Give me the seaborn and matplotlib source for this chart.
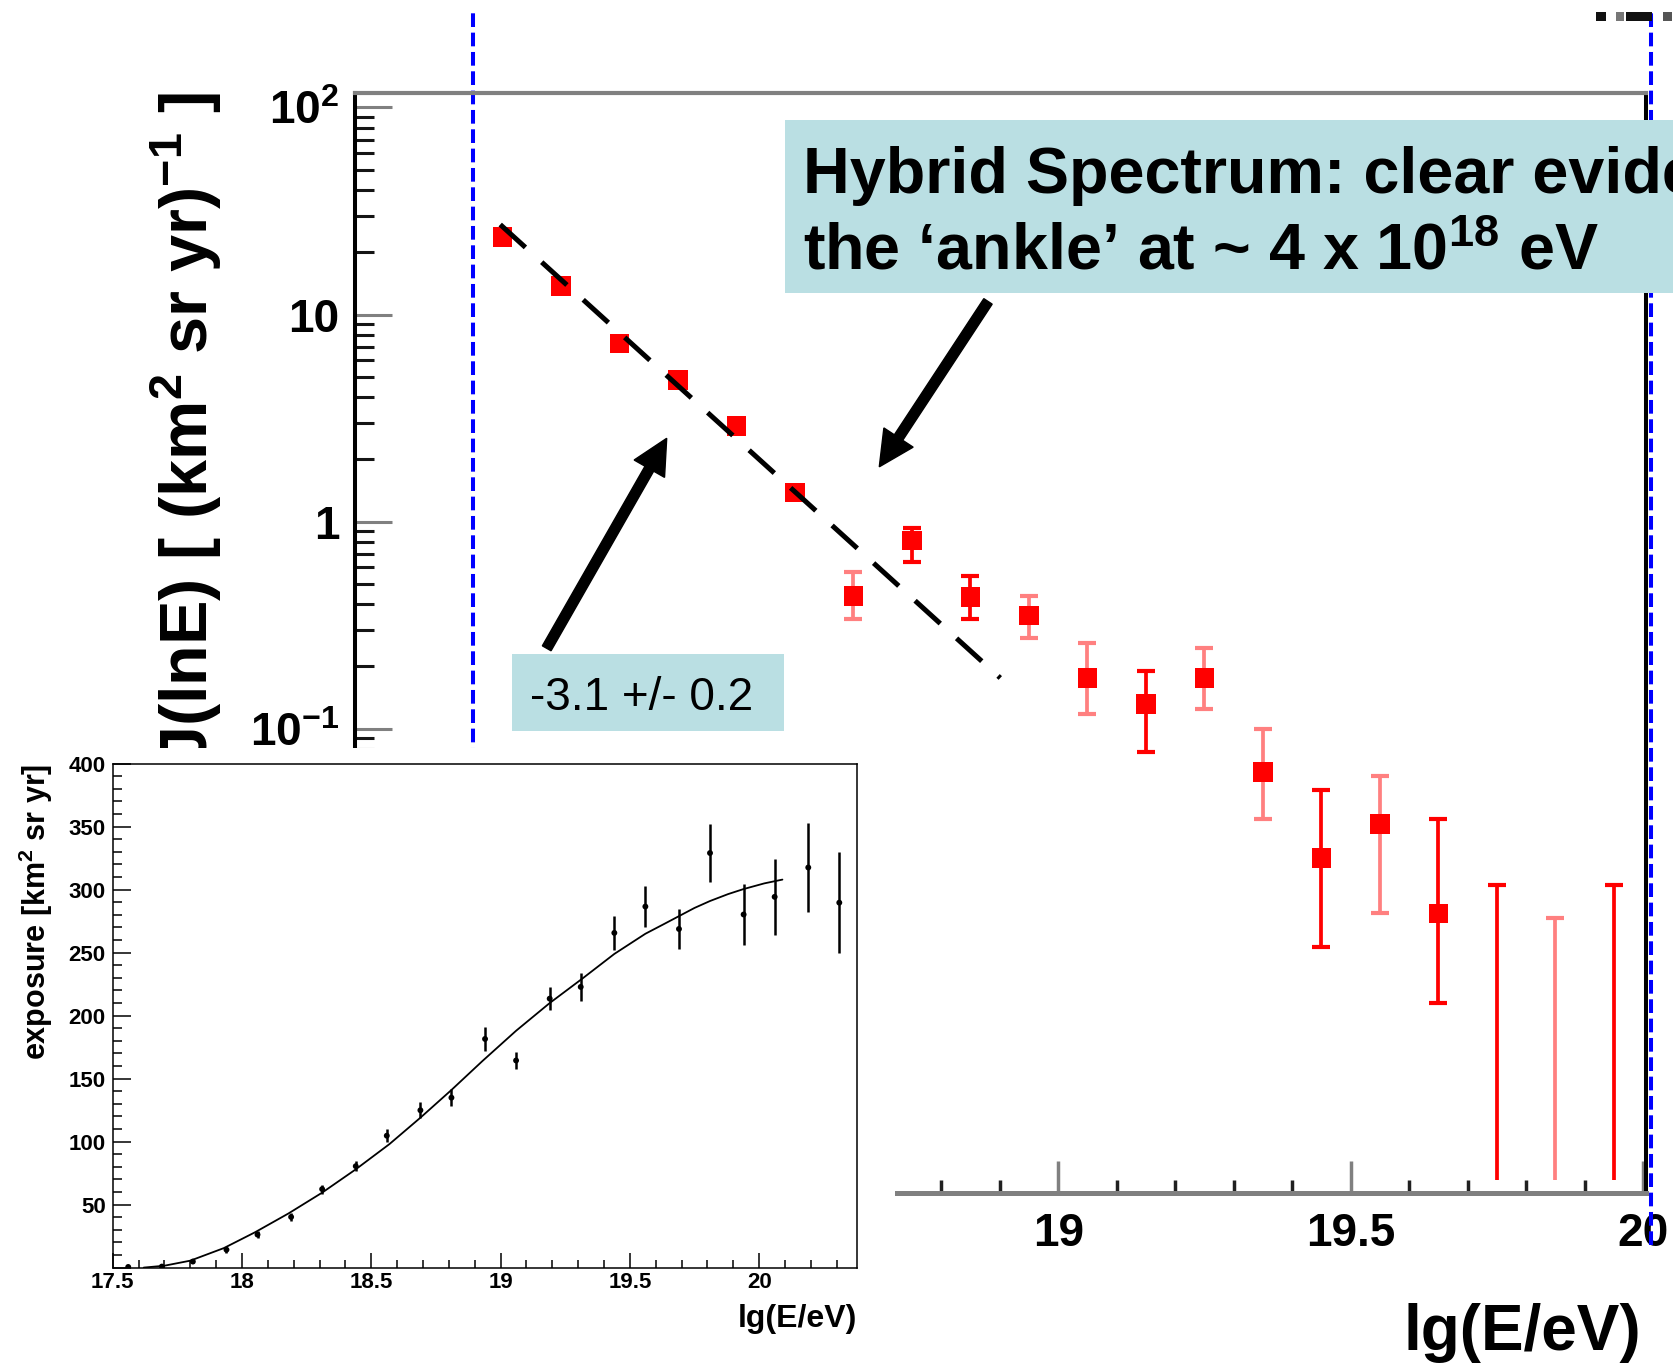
import numpy as np
import pandas as pd
import seaborn as sns
import matplotlib
matplotlib.use('Agg')
import matplotlib.pyplot as plt
from matplotlib import font_manager, ticker
from matplotlib.patches import Rectangle, FancyArrow

# hybrid spectrum, J(lnE) per energy bin
lg_e = [18.05, 18.15, 18.25, 18.35, 18.45, 18.55, 18.65, 18.75, 18.85, 18.95,
        19.05, 19.15, 19.25, 19.35, 19.45, 19.55, 19.65, 19.75, 19.85, 19.95]
flux = [23.7, 13.7, 7.24, 4.83, 2.90, 1.38, 0.437, 0.809, 0.432, 0.351,
        0.176, 0.131, 0.176, 0.0618, 0.0237, 0.0345, 0.0128,
        np.nan, np.nan, np.nan]
flux_hi = [25.4, 14.6, 7.7, 5.15, 3.1, 1.48, 0.572, 0.93, 0.548, 0.437,
           0.259, 0.190, 0.245, 0.0997, 0.0505, 0.0590, 0.0366,
           0.0175, 0.0121, 0.0175]
flux_lo = [22.0, 12.8, 6.8, 4.5, 2.7, 1.28, 0.337, 0.638, 0.337, 0.274,
           0.117, 0.0769, 0.124, 0.0366, 0.00883, 0.0128, 0.00471,
           6.6e-4, 6.6e-4, 6.6e-4]
bar_shade = ['#ff0000', '#ff0000', '#ff0000', '#ff0000', '#ff0000',
             '#ff0000', '#ff8080', '#ff0000', '#ff0000', '#ff8080',
             '#ff8080', '#ff0000', '#ff8080', '#ff8080', '#ff0000',
             '#ff8080', '#ff0000', '#ff0000', '#ff8080', '#ff0000']

# power-law fit below the ankle
fit_lg_e = [18.046, 18.901]
fit_flux = [27.2, 0.1755]

main_xtick_vals = [18.0, 18.5, 19.0, 19.5, 20.0]
main_xtick_text = ['18', '18.5', '19', '19.5', '20']
main_ytick_vals = [1e-3, 1e-2, 1e-1, 1, 10, 100]
main_ytick_text = ['', '', '10$^{-1}$', '1', '10', '10$^{2}$']
blue_marks = [18.0, 20.013]

# inset: exposure
exp_lg_e = [17.56, 17.69, 17.81, 17.94, 18.06, 18.19, 18.31, 18.44, 18.56,
            18.69, 18.81, 18.94, 19.06, 19.19, 19.31, 19.44, 19.56, 19.69,
            19.81, 19.94, 20.06, 20.19, 20.31]
exp_val = [0.5, 0.8, 4.8, 14.2, 26.2, 40.2, 62.3, 80.5, 104.7, 124.9, 134.9,
           181.5, 164.4, 213.5, 222.8, 265.7, 286.6, 268.8, 329.1, 280.3,
           294.3, 317.6, 289.7]
exp_err = [0.5, 0.8, 1.5, 2.5, 2.5, 3.0, 3.5, 4.0, 5.0, 6.5, 7.0, 9.5, 7.0,
           9.3, 10.8, 13.2, 16.3, 15.6, 23.0, 24.0, 30.0, 35.0, 40.0]
curve_lg_e = [17.62, 17.70, 17.80, 17.93, 18.05, 18.18, 18.31, 18.44, 18.57,
              18.69, 18.81, 18.93, 19.06, 19.19, 19.32, 19.44, 19.56, 19.63,
              19.69, 19.75, 19.81, 19.88, 19.94, 20.02, 20.09]
curve_val = [0.0, 1.5, 5.5, 15.5, 28.0, 43.0, 59.5, 78.0, 98.0, 119.0, 141.0,
             164.0, 188.0, 210.0, 230.0, 249.0, 265.0, 272.5, 279.0, 285.5,
             291.0, 296.5, 300.5, 305.0, 308.0]
inset_xtick_vals = [17.5, 18.0, 18.5, 19.0, 19.5, 20.0]
inset_xtick_text = ['17.5', '18', '18.5', '19', '19.5', '20']
inset_ytick_vals = [0, 50, 100, 150, 200, 250, 300, 350, 400]
inset_ytick_text = ['', '50', '100', '150', '200', '250', '300', '350', '400']

box_col = '#badfe3'
W, H = 1673, 1364


def fx(px):
    return px / W


def fy(py):
    return 1 - py / H


sns.set_style('white')
plt.rcParams['font.family'] = ['Liberation Sans', 'DejaVu Sans']
plt.rcParams['font.weight'] = 'bold'
plt.rcParams['text.color'] = 'black'
plt.rcParams['axes.labelcolor'] = 'black'
plt.rcParams['xtick.color'] = 'black'
plt.rcParams['ytick.color'] = 'black'
plt.rcParams['xtick.labelcolor'] = 'black'
plt.rcParams['ytick.labelcolor'] = 'black'
plt.rcParams['mathtext.fontset'] = 'custom'
plt.rcParams['mathtext.rm'] = 'Liberation Sans:bold'
plt.rcParams['mathtext.bf'] = 'Liberation Sans:bold'
plt.rcParams['mathtext.it'] = 'Liberation Sans:italic:bold'
plt.rcParams['mathtext.sf'] = 'Liberation Sans:bold'

try:
    font_manager.findfont('Liberation Sans Narrow:bold',
                          fallback_to_default=False)
    narrow, tick_fs, xlab_fs = 'Liberation Sans Narrow', 37, 52
except ValueError:
    narrow, tick_fs, xlab_fs = 'Liberation Sans', 33, 46

fig = plt.figure(figsize=(W / 100, H / 100), dpi=100)

# ---- main spectrum ----
ax = fig.add_axes([fx(354.6), fy(1193), fx(1646) - fx(354.6),
                   fy(93) - fy(1193)], zorder=0)
ax.set_yscale('log')

df = pd.DataFrame({'lg_e': lg_e, 'flux': flux, 'hi': flux_hi,
                   'lo': flux_lo, 'shade': bar_shade})
meas = df.dropna(subset=['flux'])
lims = df[df['flux'].isna()]

for _, r in meas.iterrows():
    ax.errorbar([r['lg_e']], [r['flux']],
                yerr=[[r['flux'] - r['lo']], [r['hi'] - r['flux']]],
                fmt='none', ecolor=r['shade'], elinewidth=2.7,
                capsize=6.8, capthick=3.0, zorder=3)
for _, r in lims.iterrows():
    ax.vlines(r['lg_e'], r['lo'], r['hi'], color=r['shade'], lw=2.7,
              zorder=3)
    ax.plot([r['lg_e']], [r['hi']], marker='_', ms=13.6, mew=3.0,
            color=r['shade'], zorder=3)

sns.scatterplot(data=meas, x='lg_e', y='flux', marker='s', s=200,
                color='#ff0000', edgecolor='none', linewidth=0, ax=ax,
                zorder=4)
sns.lineplot(x=fit_lg_e, y=fit_flux, ax=ax, color='black', linewidth=3.6,
             linestyle=(0, (6.8, 4.4)), zorder=5)

for xb in blue_marks:
    ax.axvline(xb, ymin=(1193 - 1245) / 1100, ymax=(1193 - 12) / 1100,
               color='#0000ff', lw=2.9, ls=(0, (3.4, 1.4)), clip_on=False,
               zorder=1)

ax.set_xlim(17.797, 20.005)
ax.set_ylim(10 ** -3.2435, 10 ** 2.07)
ax.set_xlabel('')
ax.set_ylabel('')

ax.xaxis.set_major_locator(ticker.FixedLocator(main_xtick_vals))
ax.xaxis.set_major_formatter(ticker.FixedFormatter(main_xtick_text))
ax.xaxis.set_minor_locator(ticker.MultipleLocator(0.1))
ax.yaxis.set_major_locator(ticker.FixedLocator(main_ytick_vals))
ax.yaxis.set_major_formatter(ticker.FixedFormatter(main_ytick_text))
ax.yaxis.set_minor_locator(ticker.LogLocator(base=10, subs=np.arange(2, 10),
                                             numticks=30))
ax.yaxis.set_minor_formatter(ticker.NullFormatter())
ax.tick_params(which='both', direction='in', top=False, right=False,
               left=True, bottom=True)
ax.tick_params(axis='y', which='major', length=26.6, width=2.2,
               color='#808080', labelsize=tick_fs, pad=11,
               labelfontfamily=narrow, labelcolor='black')
ax.tick_params(axis='y', which='minor', length=13.5, width=2.2,
               color='#151515')
ax.tick_params(axis='x', which='major', length=23, width=2.5,
               color='#808080', labelsize=tick_fs, pad=14,
               labelfontfamily=narrow, labelcolor='black')
ax.tick_params(axis='x', which='minor', length=9.5, width=2.5,
               color='#202020')
for side in ['left', 'right']:
    ax.spines[side].set_color('black')
    ax.spines[side].set_linewidth(2.9)
ax.spines['top'].set_color('#808080')
ax.spines['top'].set_linewidth(3.0)
ax.spines['bottom'].set_color('#808080')
ax.spines['bottom'].set_linewidth(3.6)

ax.text(fx(208), fy(92), 'J(lnE) [ (km$^{2}$ sr yr)$^{-1}$ ]',
        transform=fig.transFigure, rotation=90, rotation_mode='anchor',
        ha='right', va='baseline', fontsize=48, color='black')
ax.text(fx(1641), fy(1350), 'lg(E/eV)', transform=fig.transFigure,
        ha='right', va='baseline', fontsize=xlab_fs, family=[narrow],
        color='black')

# ---- annotation boxes and arrows ----
fig.add_artist(Rectangle((fx(785), fy(293)), fx(1700) - fx(785),
                         fy(120) - fy(293), transform=fig.transFigure,
                         facecolor=box_col, edgecolor='none', zorder=2))
fig.text(fx(803), fy(192.7), 'Hybrid Spectrum: clear evidence for',
         fontsize=46.5, ha='left', va='baseline', color='black', zorder=3)
fig.text(fx(803), fy(269.3), 'the \u2018ankle\u2019 at ~ 4 x 10$^{18}$ eV',
         fontsize=46.5, ha='left', va='baseline', color='black', zorder=3)

fig.add_artist(Rectangle((fx(512), fy(731)), fx(784) - fx(512),
                         fy(654) - fy(731), transform=fig.transFigure,
                         facecolor=box_col, edgecolor='none', zorder=2))
fig.text(fx(530), fy(710), '-3.1 +/- 0.2', fontsize=33,
         fontweight='normal', ha='left', va='baseline', color='black',
         zorder=3)

arrows = [(546.7, 648.3, 666.7, 438.3), (988.0, 301.4, 879.3, 466.8)]
for x0, y0, x1, y1 in arrows:
    fig.add_artist(FancyArrow(x0 / 100, (H - y0) / 100, (x1 - x0) / 100,
                              -(y1 - y0) / 100, width=0.10, head_width=0.35,
                              head_length=0.35, length_includes_head=True,
                              color='black', transform=fig.dpi_scale_trans,
                              zorder=3))

# cut-off fragments at the top right corner
for rx, rw, rc in [(1596, 10, '#111111'), (1616, 8, '#777777'),
                   (1626, 26, '#111111'), (1663, 9, '#555555')]:
    fig.add_artist(Rectangle((fx(rx), fy(21)), fx(rw), fy(12) - fy(21),
                             transform=fig.transFigure, facecolor=rc,
                             edgecolor='none', zorder=2))

# ---- inset: exposure ----
fig.add_artist(Rectangle((0, 0), fx(895), fy(748), transform=fig.transFigure,
                         facecolor='white', edgecolor='none', zorder=5))
ax_in = fig.add_axes([fx(112.7), fy(1267.6), fx(857.4) - fx(112.7),
                      fy(763.7) - fy(1267.6)], zorder=6)
ax_in.errorbar(exp_lg_e, exp_val, yerr=exp_err, fmt='none', ecolor='black',
               elinewidth=1.8, capsize=0)
sns.scatterplot(x=exp_lg_e, y=exp_val, ax=ax_in, color='black', s=18,
                marker='o', edgecolor='none')
sns.lineplot(x=curve_lg_e, y=curve_val, ax=ax_in, color='black',
             linewidth=1.3)
ax_in.set_xlim(17.5, 20.38)
ax_in.set_ylim(0, 400)
ax_in.set_xlabel('')
ax_in.set_ylabel('')
ax_in.set_facecolor('white')
ax_in.xaxis.set_major_locator(ticker.FixedLocator(inset_xtick_vals))
ax_in.xaxis.set_major_formatter(ticker.FixedFormatter(inset_xtick_text))
ax_in.xaxis.set_minor_locator(ticker.MultipleLocator(0.1))
ax_in.yaxis.set_major_locator(ticker.FixedLocator(inset_ytick_vals))
ax_in.yaxis.set_major_formatter(ticker.FixedFormatter(inset_ytick_text))
ax_in.yaxis.set_minor_locator(ticker.MultipleLocator(10))
ax_in.tick_params(which='both', direction='in', top=False, right=False,
                  left=True, bottom=True, color='black', labelcolor='black')
ax_in.tick_params(axis='y', which='major', length=12.9, width=1.1,
                  labelsize=16, pad=5)
ax_in.tick_params(axis='y', which='minor', length=6.5, width=1.1)
ax_in.tick_params(axis='x', which='major', length=10.8, width=1.1,
                  labelsize=16, pad=3.5)
ax_in.tick_params(axis='x', which='minor', length=5.8, width=1.1)
for side in ax_in.spines:
    ax_in.spines[side].set_color('black')
    ax_in.spines[side].set_linewidth(1.1)
ax_in.text(fx(857), fy(1327), 'lg(E/eV)', transform=fig.transFigure,
           ha='right', va='baseline', fontsize=23, color='black')
ax_in.text(fx(46), fy(764), 'exposure [km$^{2}$ sr yr]',
           transform=fig.transFigure, rotation=90, rotation_mode='anchor',
           ha='right', va='baseline', fontsize=22, color='black')

fig.savefig('out.png', dpi=100)
